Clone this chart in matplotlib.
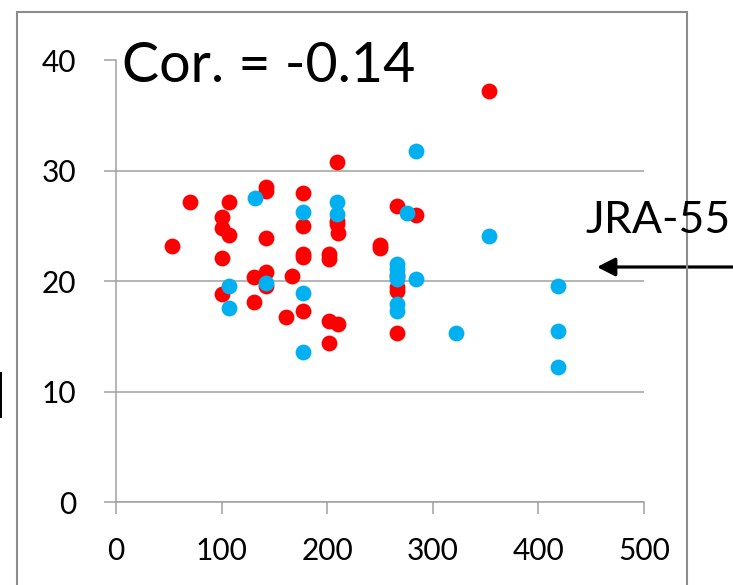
import matplotlib
matplotlib.use('Agg')
import matplotlib.pyplot as plt
from matplotlib.patches import Rectangle

plt.rcParams['font.family'] = ['Lato', 'DejaVu Sans']

# red series (x, y)
red_x = [53, 70, 100, 100, 100, 100, 107, 107, 131, 131,
         142, 142, 142, 142, 142, 161, 167, 177, 177, 177,
         177, 177, 202, 202, 202, 202, 209, 209, 209, 210,
         210, 250, 250, 266, 266, 266, 266, 266, 284, 353]
red_y = [23.2, 27.2, 25.8, 24.8, 22.1, 18.8, 27.2, 24.2, 20.4, 18.1,
         28.5, 28.2, 23.9, 20.8, 19.6, 16.8, 20.5, 28.0, 25.0, 22.5,
         22.2, 17.3, 22.5, 22.0, 16.4, 14.4, 30.8, 25.5, 25.2, 24.4,
         16.1, 23.3, 23.0, 26.8, 20.5, 19.5, 19.1, 15.3, 26.0, 37.2]

# blue series (x, y)
blue_x = [107, 107, 132, 142, 177, 177, 177, 209, 209, 266,
          266, 266, 266, 266, 266, 276, 284, 284, 322, 353,
          419, 419, 419]
blue_y = [19.6, 17.6, 27.5, 19.8, 26.3, 18.9, 13.6, 27.2, 26.1, 21.6,
          21.1, 20.6, 20.2, 17.9, 17.3, 26.2, 31.8, 20.2, 15.3, 24.1,
          19.6, 15.5, 12.2]

x_ticks = [0, 100, 200, 300, 400, 500]
y_ticks = [0, 10, 20, 30, 40]
cor_label = 'Cor. = -0.14'
arrow_label = 'JRA-55'

W, H = 733, 585
grid_col = '#a0a0a0'

fig = plt.figure(figsize=(W / 100, H / 100), dpi=100)
ax = fig.add_axes([116 / W, 1 - 502 / H, (644 - 116) / W, (502 - 60.5) / H])

ax.scatter(red_x, red_y, s=130, color='#ff0000', linewidths=0, zorder=3)
ax.scatter(blue_x, blue_y, s=130, color='#00b0f0', linewidths=0, zorder=4)

ax.set_xlim(0, 500)
ax.set_ylim(0, 40)
ax.set_xticks(x_ticks)
ax.set_yticks(y_ticks)
ax.yaxis.grid(True, color=grid_col, linewidth=1.1)
ax.set_axisbelow(True)
for s in ['top', 'right']:
    ax.spines[s].set_visible(False)
for s in ['left', 'bottom']:
    ax.spines[s].set_color(grid_col)
    ax.spines[s].set_linewidth(1.1)
ax.tick_params(axis='both', direction='out', length=8.5, width=1.1,
               color=grid_col, labelsize=21.5, labelcolor='black')
ax.tick_params(axis='y', pad=20)
ax.tick_params(axis='x', pad=17)

# outer frame
fig.add_artist(Rectangle((17 / W, -0.1), (687 - 17) / W, 1.1 - 12 / H,
                         transform=fig.transFigure, fill=False,
                         edgecolor='#8c8c8c', linewidth=1.5))
# cut-off mark at the left edge
fig.add_artist(Rectangle((0, 1 - 418 / H), 2 / W, 46 / H,
                         transform=fig.transFigure, color='black', lw=0))

fig.text(122 / W, 1 - 82 / H, cor_label, fontsize=40, ha='left',
         va='baseline', color='black')
fig.text(585 / W, 1 - 233 / H, arrow_label, fontsize=32, ha='left',
         va='baseline', color='black')
ax.annotate('', xy=(597 / W, 1 - 267 / H), xytext=(1.0, 1 - 267 / H),
            xycoords='figure fraction', textcoords='figure fraction',
            arrowprops=dict(arrowstyle='-|>,head_length=0.55,head_width=0.28',
                            color='black', lw=2.3, mutation_scale=20,
                            shrinkA=0, shrinkB=0))

fig.savefig('out.png', dpi=100)
